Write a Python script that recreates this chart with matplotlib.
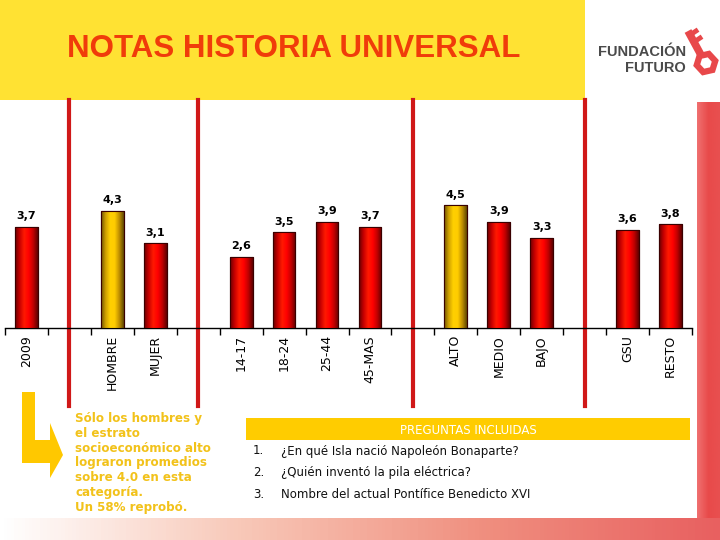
import numpy as np
import matplotlib
matplotlib.use("Agg")
import matplotlib.pyplot as plt
from matplotlib.patches import Rectangle, Polygon, RegularPolygon
from matplotlib.transforms import blended_transform_factory
from matplotlib.colors import LinearSegmentedColormap

# ---------------- data ----------------
categories = ["2009", "", "HOMBRE", "MUJER", "", "14-17", "18-24", "25-44", "45-MAS",
              "", "ALTO", "MEDIO", "BAJO", "", "GSU", "RESTO"]
values = [3.7, None, 4.3, 3.1, None, 2.6, 3.5, 3.9, 3.7,
          None, 4.5, 3.9, 3.3, None, 3.6, 3.8]
highlight = ["HOMBRE", "ALTO"]
value_labels = ["3,7", "", "4,3", "3,1", "", "2,6", "3,5", "3,9", "3,7",
                "", "4,5", "3,9", "3,3", "", "3,6", "3,8"]

title = "NOTAS HISTORIA UNIVERSAL"
note_text = ("Sólo los hombres y\nel estrato\nsocioeconómico alto\nlograron promedios\n"
             "sobre 4.0 en esta\ncategoría.\nUn 58% reprobó.")
questions_header = "PREGUNTAS INCLUIDAS"
questions = ["¿En qué Isla nació Napoleón Bonaparte?",
             "¿Quién inventó la pila eléctrica?",
             "Nombre del actual Pontífice Benedicto XVI"]

W, H = 720, 540
fig = plt.figure(figsize=(7.2, 5.4), dpi=100)
fig.patch.set_facecolor("white")

# ---------------- background / decorations (pixel coords) ----------------
bg = fig.add_axes([0, 0, 1, 1], zorder=0)
bg.set_xlim(0, W)
bg.set_ylim(H, 0)
bg.axis("off")

# title box
bg.add_patch(Rectangle((0, 0), 585, 100, color="#FFE233", lw=0))
bg.text(294, 49, title, ha="center", va="center", fontsize=22.5, fontweight="bold",
        color="#F03C0A", family="Liberation Sans")

# logo
bg.text(686, 52, "FUNDACIÓN", ha="right", va="center", fontsize=10.5, fontweight="bold",
        color="#4a4a4a", family="Liberation Sans")
bg.text(686, 68, "FUTURO", ha="right", va="center", fontsize=10.5, fontweight="bold",
        color="#4a4a4a", family="Liberation Sans")
keyc = "#E8484A"
bg.plot([688, 701], [31, 55], color=keyc, lw=5.5, solid_capstyle="butt")
bg.plot([690, 696], [35, 31], color=keyc, lw=3.5)
bg.plot([694, 700], [42, 38], color=keyc, lw=3.5)
bg.add_patch(RegularPolygon((706, 63), 6, radius=9.5, orientation=0.3,
                            facecolor="none", edgecolor=keyc, lw=4.5))

# right red strip
strip = np.linspace(0, 1, 50)[None, :]
cm_strip = LinearSegmentedColormap.from_list("s", ["#F07070", "#E84A4A", "#E85050"])
bg.imshow(strip, extent=(697, 720, 540, 102), cmap=cm_strip, aspect="auto", zorder=1)
# bottom gradient band
band = np.linspace(0, 1, 200)[None, :]
cm_band = LinearSegmentedColormap.from_list("b", ["#FFFFFF", "#F8C8B8", "#F09080", "#E86060"])
bg.imshow(band, extent=(0, 720, 540, 518), cmap=cm_band, aspect="auto", zorder=1)
bg.set_xlim(0, W)
bg.set_ylim(H, 0)

# yellow arrow
arrow = Polygon([(22, 392), (35, 392), (35, 440), (50, 440), (50, 423), (63, 455),
                 (50, 478), (50, 463), (22, 463)], closed=True, color="#FFC800", lw=0, zorder=2)
bg.add_patch(arrow)

# note text
bg.text(75, 412, note_text, ha="left", va="top", fontsize=8.6, fontweight="bold",
        color="#F2C21A", linespacing=1.18, family="DejaVu Sans")

# questions box
bg.add_patch(Rectangle((246, 418), 444, 22, color="#FFCC00", lw=0, zorder=2))
bg.text(468, 430, questions_header, ha="center", va="center", fontsize=8.5,
        color="white", zorder=3, family="DejaVu Sans")
for i, q in enumerate(questions):
    y = 451 + i * 21.5
    bg.text(253, y, f"{i + 1}.", ha="left", va="center", fontsize=8.5, color="#111111",
            family="DejaVu Sans")
    bg.text(281, y, q, ha="left", va="center", fontsize=8.5, color="#111111",
            family="DejaVu Sans")

# ---------------- chart ----------------
px_per_unit = 27.3
ax_bottom_px = 328
ax_top_px = 140
ax = fig.add_axes([5 / W, 1 - ax_bottom_px / H, 687 / W, (ax_bottom_px - ax_top_px) / H],
                  zorder=2)
ax.patch.set_alpha(0)
ymax = (ax_bottom_px - ax_top_px) / px_per_unit
ax.set_xlim(-0.5, len(categories) - 0.5)
ax.set_ylim(0, ymax)

cm_red = LinearSegmentedColormap.from_list(
    "r", ["#6a0000", "#c80000", "#ff1a00", "#ff0000", "#c00000", "#600000"])
cm_gold = LinearSegmentedColormap.from_list(
    "g", ["#6e5400", "#d0a000", "#ffd000", "#ffcc00", "#c09000", "#604800"])
grad = np.linspace(0, 1, 64)[None, :]

bw = 0.53
x = np.arange(len(categories))
for xi, cat, v, lab in zip(x, categories, values, value_labels):
    if v is None:
        continue
    gold = cat in highlight
    bars = ax.bar(xi, v, width=bw, color="#ff0000", edgecolor="#3a0000", lw=0.8, zorder=3)
    patch = bars.patches[0]
    im = ax.imshow(grad, extent=(xi - bw / 2, xi + bw / 2, 0, v), aspect="auto",
                   cmap=cm_gold if gold else cm_red, zorder=3.5)
    im.set_clip_path(patch)
    ax.add_patch(Rectangle((xi - bw / 2, 0), bw, v, fill=False, edgecolor="#3a0000",
                           lw=0.8, zorder=4))
    ax.annotate(lab, (xi, v), xytext=(0, 4), textcoords="offset points", ha="center",
                va="bottom", fontsize=8, fontweight="bold", color="black",
                family="DejaVu Sans")

ax.set_xlim(-0.5, len(categories) - 0.5)
ax.set_ylim(0, ymax)

# axis styling
for s in ["top", "right", "left"]:
    ax.spines[s].set_visible(False)
ax.spines["bottom"].set_color("black")
ax.spines["bottom"].set_linewidth(1)
ax.set_yticks([])
ax.set_xticks(np.arange(-0.5, len(categories), 1.0), minor=False)
ax.set_xticklabels([])
ax.tick_params(axis="x", length=5, width=1, color="black", direction="out")
ax.set_xticks(x, minor=True)
ax.set_xticklabels(categories, minor=True, rotation=90, fontsize=9, family="DejaVu Sans")
ax.tick_params(axis="x", which="minor", length=0, pad=5)

# group dividers (red vertical lines in empty slots)
trans = blended_transform_factory(ax.transData, fig.transFigure)
for xi, cat in zip(x, categories):
    if cat == "":
        ax.plot([xi, xi], [1 - 100 / H, 1 - 406 / H], transform=trans, color="#D01818",
                lw=3, clip_on=False, zorder=1)

fig.savefig("out.png", dpi=100)
